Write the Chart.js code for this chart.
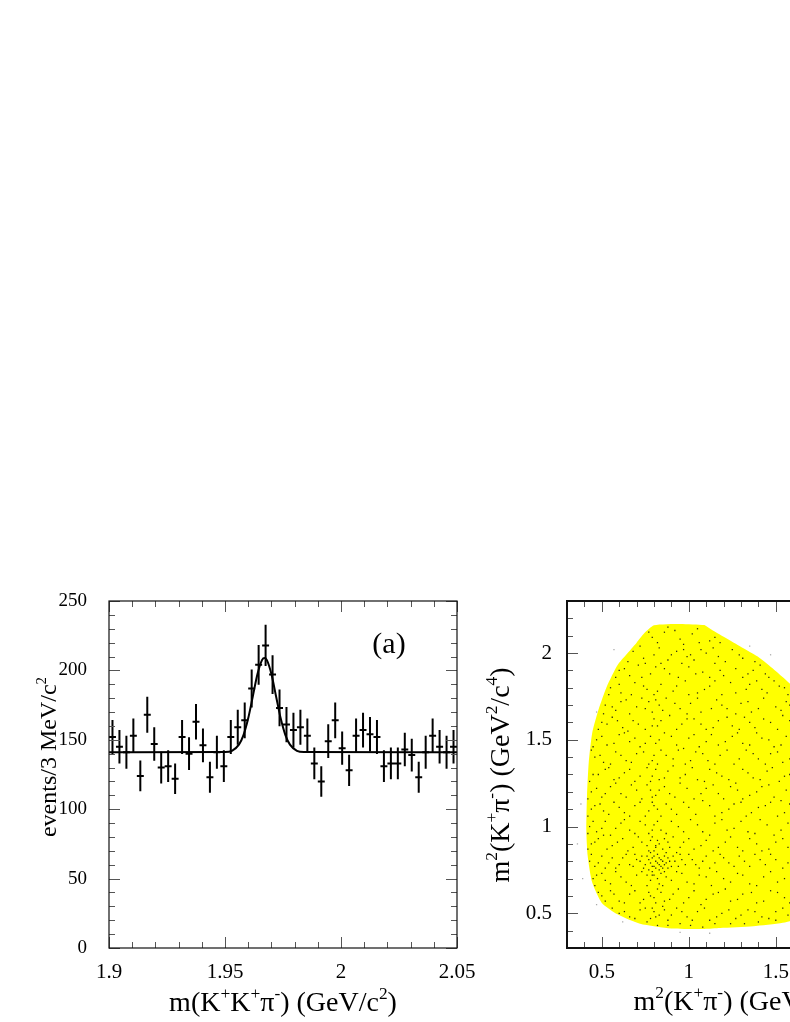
<!DOCTYPE html>
<html>
<head>
<meta charset="utf-8">
<script src="https://cdn.jsdelivr.net/npm/chart.js@4.4.1/dist/chart.umd.min.js"></script>
<style>
html, body { margin: 0; padding: 0; background: #fff; overflow: hidden; width: 790px; height: 1022px; }
#chartA { position: absolute; left: 0; top: 560px; }
#chartB { position: absolute; left: 470px; top: 560px; }
</style>
</head>
<body>
<canvas id="chartA" width="480" height="462"></canvas>
<canvas id="chartB" width="520" height="462"></canvas>
<script>
// (a) mass histogram, 3 MeV bins from 1.9 GeV
var binLow = 1.9, binWidth = 0.003;
var counts = [152,145,141,153,124,168,147,130,131,122,
              152,140,163,146,123,141,131,152,159,164,
              187,204,218,197,173,161,157,159,153,133,
              120,149,164,144,128,153,157,154,152,131,
              133,133,143,139,123,141,153,145,141,145];
var errors = [12.3,12.0,11.9,12.4,11.1,13.0,12.1,11.4,11.4,11.0,
              12.3,11.8,12.8,12.1,11.1,11.9,11.4,12.3,12.6,12.8,
              13.7,14.3,14.8,14.0,13.2,12.7,12.5,12.6,12.4,11.5,
              11.0,12.2,12.8,12.0,11.3,12.4,12.5,12.4,12.3,11.4,
              11.5,11.5,12.0,11.8,11.1,11.9,12.4,12.0,11.9,12.0];
// fit curve
var fitX = [1.9, 1.95, 1.953, 1.956, 1.958, 1.960, 1.962, 1.964, 1.966, 1.967, 1.968, 1.970, 1.972, 1.974, 1.976, 1.978, 1.981, 1.984, 2.05];
var fitY = [141, 141.2, 142.1, 146.5, 153.6, 165.5, 181.4, 197.4, 207.6, 209, 207.6, 197.4, 181.4, 165.5, 153.6, 146.5, 142.1, 141.2, 141];
var xTicksA = [1.9, 1.95, 2, 2.05];
var yTicksA = [0, 50, 100, 150, 200, 250];

// (b) Dalitz plot
var xTicksB = [0.5, 1, 1.5, 2];
var yTicksB = [0.5, 1, 1.5, 2];
var boundary = [
  [1.09,2.162],[0.95,2.168],[0.80,2.16],[0.74,2.11],[0.70,2.06],[0.64,1.99],[0.59,1.93],
  [0.53,1.81],[0.48,1.67],[0.445,1.54],[0.425,1.37],[0.415,1.18],[0.411,0.98],[0.419,0.83],
  [0.444,0.68],[0.50,0.56],[0.59,0.495],[0.72,0.44],[0.90,0.413],[1.09,0.41],[1.18,0.415],
  [1.37,0.425],[1.54,0.445],[1.67,0.48],[1.81,0.53],[1.93,0.59],[1.99,0.64],[2.06,0.70],
  [2.11,0.74],[2.16,0.80],[2.168,0.95],[2.162,1.09],[2.114,1.165],[2.047,1.281],[1.98,1.396],
  [1.903,1.492],[1.817,1.589],[1.70,1.70],[1.589,1.817],[1.492,1.903],[1.396,1.98],
  [1.281,2.047],[1.165,2.114],[1.09,2.162]
];
var eventsIn = [
  [0.86,2.12],[0.95,2.08],[1.02,2.11],[1.12,2.07],[0.79,2.09],[1.06,2.06],[0.92,2.13],
  [0.88,2.15],[1.05,2.14],[0.82,2.06],[1.15,2.09],[0.97,2.05],[0.77,2.12],[1.18,2.06],
  [0.68,2.01],[0.74,1.97],[0.83,2.03],[0.9,1.99],[0.97,2.02],[1.03,1.96],[1.1,2.0],[1.17,1.98],[1.25,2.02],[1.31,1.97],[0.99,1.98],[1.14,2.03],
  [0.65,1.95],[0.72,2.04],[0.88,1.96],[1.07,2.02],[1.21,1.95],[1.29,1.99],[1.38,1.95],[0.93,2.01],[0.8,1.99],[1.01,1.99],
  [0.6,1.9],[0.66,1.87],[0.71,1.93],[0.78,1.88],[0.81,1.92],[0.86,1.91],[0.94,1.86],[1.0,1.92],[1.08,1.89],[1.15,1.94],[1.2,1.87],[1.27,1.91],[1.34,1.88],[1.41,1.93],[1.46,1.86],[0.75,1.94],
  [0.58,1.86],[0.63,1.91],[0.73,1.86],[0.89,1.88],[0.96,1.94],[1.04,1.88],[1.18,1.9],[1.31,1.86],[1.37,1.9],[1.44,1.88],[1.12,1.86],[0.84,1.94],
  [0.55,1.8],[0.61,1.77],[0.69,1.83],[0.76,1.79],[0.8,1.76],[0.84,1.82],[0.91,1.78],[0.98,1.84],[1.05,1.77],[1.12,1.81],[1.19,1.76],[1.24,1.83],[1.33,1.79],[1.39,1.84],[1.45,1.77],[1.52,1.81],[1.57,1.76],
  [0.54,1.76],[0.6,1.82],[0.67,1.76],[0.74,1.81],[0.82,1.78],[0.93,1.81],[1.0,1.76],[1.09,1.79],[1.15,1.84],[1.27,1.77],[1.35,1.82],[1.42,1.79],[1.55,1.8],[1.49,1.84],
  [0.52,1.7],[0.58,1.67],[0.64,1.73],[0.7,1.69],[0.77,1.72],[0.79,1.66],[0.83,1.7],[0.87,1.74],[0.95,1.68],[1.01,1.71],[1.07,1.66],[1.16,1.73],[1.22,1.68],[1.3,1.71],[1.36,1.66],[1.43,1.74],[1.5,1.69],[1.56,1.72],[0.73,1.74],
  [0.51,1.65],[0.56,1.69],[0.61,1.72],[0.66,1.65],[0.75,1.68],[0.81,1.73],[0.85,1.67],[0.92,1.71],[0.99,1.65],[1.05,1.74],[1.13,1.68],[1.19,1.7],[1.27,1.65],[1.34,1.72],[1.4,1.68],[1.53,1.67],[1.58,1.7],
  [0.5,1.6],[0.56,1.63],[0.62,1.57],[0.68,1.61],[0.75,1.56],[0.8,1.62],[0.82,1.58],[0.89,1.64],[0.96,1.59],[1.03,1.62],[1.1,1.56],[1.17,1.61],[1.25,1.58],[1.32,1.63],[1.38,1.57],[1.47,1.6],[1.54,1.64],
  [0.48,1.56],[0.53,1.59],[0.59,1.61],[0.65,1.55],[0.71,1.59],[0.79,1.58],[0.84,1.61],[0.93,1.56],[0.99,1.62],[1.07,1.59],[1.14,1.57],[1.22,1.63],[1.29,1.56],[1.35,1.6],[1.43,1.62],[1.51,1.56],[1.58,1.61],
  [0.47,1.5],[0.53,1.47],[0.6,1.53],[0.66,1.49],[0.72,1.46],[0.78,1.52],[0.81,1.48],[0.86,1.54],[0.93,1.47],[1.0,1.51],[1.06,1.46],[1.13,1.53],[1.21,1.49],[1.28,1.54],[1.35,1.47],[1.42,1.51],[1.49,1.46],[1.56,1.52],
  [0.45,1.46],[0.5,1.52],[0.57,1.48],[0.63,1.54],[0.69,1.51],[0.75,1.48],[0.83,1.5],[0.9,1.52],[0.97,1.45],[1.03,1.53],[1.1,1.49],[1.17,1.47],[1.25,1.52],[1.31,1.48],[1.39,1.54],[1.46,1.5],[1.53,1.47],
  [0.46,1.4],[0.51,1.37],[0.58,1.43],[0.64,1.38],[0.7,1.42],[0.77,1.36],[0.8,1.41],[0.84,1.44],[0.91,1.39],[0.98,1.36],[1.04,1.43],[1.11,1.38],[1.18,1.41],[1.26,1.36],[1.33,1.44],[1.4,1.39],[1.47,1.42],[1.54,1.37],
  [0.44,1.44],[0.49,1.41],[0.55,1.36],[0.61,1.41],[0.67,1.37],[0.74,1.43],[0.79,1.38],[0.82,1.36],[0.87,1.41],[0.94,1.44],[1.01,1.38],[1.08,1.42],[1.15,1.36],[1.22,1.44],[1.29,1.39],[1.37,1.42],[1.44,1.36],[1.51,1.43],[1.58,1.39],
  [0.45,1.3],[0.52,1.33],[0.57,1.27],[0.63,1.31],[0.69,1.26],[0.76,1.34],[0.79,1.29],[0.83,1.27],[0.88,1.32],[0.95,1.28],[1.02,1.34],[1.09,1.26],[1.16,1.31],[1.23,1.27],[1.31,1.33],[1.37,1.28],[1.45,1.32],[1.52,1.26],[1.58,1.3],
  [0.43,1.26],[0.48,1.3],[0.54,1.34],[0.6,1.28],[0.66,1.33],[0.72,1.29],[0.78,1.26],[0.81,1.33],[0.86,1.28],[0.91,1.35],[0.98,1.3],[1.05,1.27],[1.12,1.33],[1.19,1.29],[1.27,1.25],[1.34,1.31],[1.41,1.27],[1.48,1.34],[1.55,1.29],
  [0.44,1.2],[0.5,1.17],[0.55,1.23],[0.61,1.19],[0.67,1.24],[0.73,1.16],[0.78,1.21],[0.81,1.18],[0.86,1.23],[0.92,1.17],[0.99,1.22],[1.07,1.19],[1.14,1.24],[1.2,1.16],[1.28,1.21],[1.35,1.18],[1.42,1.23],[1.49,1.17],[1.56,1.21],
  [0.42,1.16],[0.47,1.22],[0.52,1.19],[0.58,1.25],[0.64,1.17],[0.7,1.21],[0.76,1.24],[0.79,1.17],[0.83,1.21],[0.89,1.19],[0.95,1.25],[1.03,1.16],[1.1,1.22],[1.17,1.19],[1.24,1.23],[1.31,1.16],[1.39,1.2],[1.46,1.24],[1.53,1.15],
  [0.44,1.1],[0.49,1.13],[0.54,1.07],[0.6,1.11],[0.66,1.06],[0.72,1.14],[0.77,1.09],[0.8,1.12],[0.84,1.06],[0.9,1.1],[0.97,1.14],[1.04,1.07],[1.12,1.12],[1.19,1.08],[1.26,1.13],[1.33,1.06],[1.4,1.11],[1.47,1.14],[1.55,1.08],
  [0.42,1.06],[0.46,1.12],[0.51,1.09],[0.57,1.14],[0.63,1.08],[0.69,1.12],[0.75,1.06],[0.79,1.14],[0.82,1.1],[0.87,1.13],[0.93,1.07],[1.0,1.11],[1.08,1.15],[1.15,1.06],[1.23,1.1],[1.3,1.14],[1.36,1.08],[1.44,1.12],[1.51,1.06],[1.58,1.13],
  [0.43,1.0],[0.47,0.97],[0.52,1.03],[0.58,0.99],[0.63,1.04],[0.69,0.96],[0.75,1.01],[0.79,0.98],[0.82,1.03],[0.87,0.96],[0.94,1.0],[1.01,1.04],[1.08,0.97],[1.15,1.02],[1.22,0.98],[1.3,1.03],[1.38,0.96],[1.45,1.01],[1.53,0.98],
  [0.42,0.96],[0.45,1.03],[0.5,0.99],[0.55,0.95],[0.61,1.02],[0.66,0.98],[0.72,1.03],[0.77,0.96],[0.8,1.01],[0.84,0.98],[0.9,1.03],[0.97,0.97],[1.05,1.01],[1.12,0.95],[1.19,1.04],[1.26,0.99],[1.34,0.97],[1.41,1.04],[1.49,0.95],[1.57,1.02],
  [0.44,0.9],[0.48,0.93],[0.53,0.87],[0.59,0.91],[0.65,0.86],[0.71,0.94],[0.76,0.89],[0.78,0.92],[0.8,0.86],[0.83,0.9],[0.86,0.93],[0.89,0.88],[0.93,0.85],[0.97,0.91],[1.03,0.87],[1.1,0.92],[1.17,0.88],[1.24,0.94],[1.31,0.86],[1.39,0.9],[1.46,0.87],[1.54,0.93],
  [0.42,0.87],[0.46,0.91],[0.51,0.95],[0.56,0.89],[0.62,0.93],[0.68,0.88],[0.73,0.91],[0.77,0.86],[0.79,0.94],[0.81,0.89],[0.82,0.92],[0.85,0.87],[0.88,0.91],[0.91,0.94],[0.95,0.88],[1.0,0.93],[1.07,0.89],[1.14,0.86],[1.21,0.91],[1.28,0.88],[1.35,0.93],[1.42,0.86],[1.5,0.91],[1.57,0.88],
  [0.43,0.8],[0.46,0.77],[0.5,0.83],[0.54,0.79],[0.58,0.76],[0.62,0.82],[0.66,0.78],[0.69,0.84],[0.72,0.8],[0.74,0.76],[0.76,0.83],[0.78,0.79],[0.79,0.82],[0.8,0.77],[0.81,0.8],[0.82,0.84],[0.83,0.78],[0.84,0.81],[0.85,0.76],[0.86,0.83],[0.87,0.79],[0.88,0.82],[0.9,0.77],[0.92,0.8],[0.95,0.84],[0.98,0.78],[1.02,0.81],[1.06,0.76],[1.1,0.83],[1.15,0.79],[1.2,0.82],[1.26,0.77],[1.32,0.8],[1.38,0.84],[1.44,0.78],[1.5,0.81],[1.57,0.79],[0.77,0.75],[0.83,0.75],
  [0.44,0.84],[0.48,0.79],[0.52,0.76],[0.56,0.82],[0.6,0.78],[0.64,0.84],[0.68,0.77],[0.7,0.81],[0.73,0.83],[0.75,0.78],[0.77,0.81],[0.78,0.85],[0.79,0.77],[0.8,0.83],[0.81,0.76],[0.82,0.79],[0.83,0.82],[0.84,0.77],[0.85,0.8],[0.86,0.78],[0.87,0.85],[0.88,0.76],[0.89,0.8],[0.91,0.83],[0.94,0.77],[0.96,0.81],[1.0,0.84],[1.04,0.78],[1.08,0.8],[1.12,0.76],[1.18,0.84],[1.23,0.79],[1.29,0.83],[1.35,0.77],[1.41,0.81],[1.47,0.84],[1.54,0.76],[0.76,0.72],[0.84,0.73],[0.81,0.88],[0.79,0.72],[0.86,0.74],
  [0.45,0.7],[0.5,0.73],[0.55,0.67],[0.61,0.71],[0.67,0.66],[0.73,0.74],[0.78,0.69],[0.8,0.72],[0.83,0.67],[0.87,0.71],[0.93,0.74],[0.99,0.68],[1.06,0.72],[1.13,0.66],[1.2,0.7],[1.28,0.73],[1.35,0.67],[1.43,0.71],[1.51,0.68],
  [0.46,0.66],[0.47,0.72],[0.52,0.69],[0.58,0.74],[0.64,0.68],[0.7,0.72],[0.76,0.66],[0.79,0.74],[0.82,0.7],[0.85,0.66],[0.9,0.69],[0.96,0.73],[1.03,0.67],[1.1,0.71],[1.16,0.74],[1.24,0.68],[1.31,0.72],[1.39,0.66],[1.47,0.74],[1.55,0.7],
  [0.5,0.6],[0.55,0.63],[0.6,0.57],[0.66,0.61],[0.72,0.56],[0.77,0.62],[0.8,0.59],[0.82,0.64],[0.86,0.57],[0.91,0.61],[0.97,0.56],[1.03,0.63],[1.1,0.58],[1.17,0.62],[1.24,0.57],[1.31,0.61],[1.39,0.56],[1.47,0.63],[1.55,0.59],
  [0.48,0.62],[0.52,0.57],[0.57,0.61],[0.63,0.56],[0.69,0.63],[0.74,0.58],[0.78,0.6],[0.81,0.56],[0.84,0.62],[0.89,0.58],[0.94,0.64],[1.0,0.59],[1.07,0.55],[1.14,0.61],[1.21,0.64],[1.28,0.58],[1.36,0.62],[1.43,0.57],[1.51,0.62],[1.58,0.56],
  [0.6,0.5],[0.66,0.48],[0.72,0.52],[0.78,0.47],[0.8,0.51],[0.83,0.49],[0.88,0.46],[0.93,0.53],[0.99,0.48],[1.05,0.51],[1.12,0.46],[1.19,0.5],[1.27,0.47],[1.34,0.52],[1.42,0.48],[1.5,0.51],[1.57,0.49],[0.79,0.53],[0.85,0.54],
  [0.56,0.53],[0.63,0.51],[0.69,0.47],[0.75,0.53],[0.81,0.48],[0.86,0.52],[0.9,0.49],[0.96,0.51],[1.02,0.46],[1.09,0.53],[1.16,0.48],[1.23,0.52],[1.3,0.49],[1.38,0.51],[1.46,0.47],[1.54,0.53],
  [0.82,0.43],[0.95,0.44],[1.08,0.42],[1.24,0.44],[1.4,0.45],[0.76,0.45],[0.88,0.43],[1.01,0.43],[1.15,0.44],[1.32,0.44],[1.5,0.46]
];
var eventsOut = [[0.38,1.13],[0.39,0.7],[0.47,1.66],[0.57,2.02],[1.35,2.04],[1.47,1.99],[0.95,0.39],[1.12,0.385],[0.47,0.55],[0.62,0.45],[0.36,0.9]];

var serif = '"Liberation Serif", "Times New Roman", serif';

function toPts(list) {
  return list.map(function (p) { return { x: p[0], y: p[1] }; });
}

function richText(ctx, parts, x, y, size, rotate) {
  ctx.save();
  ctx.translate(x, y);
  if (rotate) ctx.rotate(-Math.PI / 2);
  ctx.fillStyle = '#000';
  ctx.textAlign = 'left';
  ctx.textBaseline = 'alphabetic';
  var w = 0;
  parts.forEach(function (p) {
    ctx.font = (p[1] ? size * 0.62 : size) + 'px ' + serif;
    w += ctx.measureText(p[0]).width;
  });
  var cx = -w / 2;
  parts.forEach(function (p) {
    ctx.font = (p[1] ? size * 0.62 : size) + 'px ' + serif;
    ctx.fillText(p[0], cx, p[1] ? -size * 0.42 : 0);
    cx += ctx.measureText(p[0]).width;
  });
  ctx.restore();
}

// frame with inward ticks, ROOT style
function frameTicks(o) {
  return {
    id: 'frameTicks',
    afterDraw: function (chart) {
      var ctx = chart.ctx, a = chart.chartArea, xs = chart.scales.x, ys = chart.scales.y;
      ctx.save();
      ctx.strokeStyle = '#555';
      ctx.lineWidth = 1;
      ctx.beginPath();
      var n = Math.round((xs.max - xs.min) / o.xMinor), i, v, len, p;
      for (i = 0; i <= n; i++) {
        v = xs.min + i * o.xMinor;
        len = Math.abs(v / o.xMajor - Math.round(v / o.xMajor)) < 1e-6 ? 11 : 6;
        p = Math.round(xs.getPixelForValue(v)) + 0.5;
        ctx.moveTo(p, a.bottom); ctx.lineTo(p, a.bottom - len);
        ctx.moveTo(p, a.top); ctx.lineTo(p, a.top + len);
      }
      n = Math.round((ys.max - ys.min) / o.yMinor);
      for (i = 0; i <= n; i++) {
        v = ys.min + i * o.yMinor;
        len = Math.abs(v / o.yMajor - Math.round(v / o.yMajor)) < 1e-6 ? 11 : 6;
        p = Math.round(ys.getPixelForValue(v)) + 0.5;
        ctx.moveTo(a.left, p); ctx.lineTo(a.left + len, p);
        ctx.moveTo(a.right, p); ctx.lineTo(a.right - len, p);
      }
      ctx.stroke();
      ctx.strokeStyle = '#111';
      ctx.lineWidth = o.frame;
      ctx.strokeRect(a.left, a.top, a.right - a.left, a.bottom - a.top);
      ctx.restore();
      o.labels(chart.ctx);
    }
  };
}

var errorBars = {
  id: 'errorBars',
  afterDatasetsDraw: function (chart) {
    var ctx = chart.ctx, xs = chart.scales.x, ys = chart.scales.y;
    ctx.save();
    ctx.strokeStyle = '#000';
    ctx.lineWidth = 2;
    ctx.beginPath();
    counts.forEach(function (c, i) {
      var xc = binLow + (i + 0.5) * binWidth;
      var px = xs.getPixelForValue(xc);
      var py = ys.getPixelForValue(c);
      ctx.moveTo(px, ys.getPixelForValue(c + errors[i]));
      ctx.lineTo(px, ys.getPixelForValue(c - errors[i]));
      ctx.moveTo(xs.getPixelForValue(xc - binWidth / 2), py);
      ctx.lineTo(xs.getPixelForValue(xc + binWidth / 2), py);
    });
    ctx.stroke();
    ctx.restore();
  }
};

function axisOpts(min, max, ticks, size, pad, fontSize) {
  return {
    type: 'linear',
    min: min,
    max: max,
    grid: { display: false, drawTicks: false },
    border: { display: false },
    afterBuildTicks: function (scale) {
      scale.ticks = ticks.map(function (v) { return { value: v }; });
    },
    afterFit: function (scale) {
      if (scale.isHorizontal()) scale.height = size; else scale.width = size;
      scale.paddingLeft = 0; scale.paddingRight = 0;
      scale.paddingTop = 0; scale.paddingBottom = 0;
    },
    ticks: {
      color: '#000',
      padding: pad,
      maxRotation: 0,
      autoSkip: false,
      font: { family: serif, size: fontSize },
      callback: function (v) { return String(+v.toFixed(2)); }
    }
  };
}

var histPts = counts.map(function (c, i) {
  return { x: binLow + (i + 0.5) * binWidth, y: c };
});
var fitPts = fitX.map(function (x, i) { return { x: x, y: fitY[i] }; });

new Chart(document.getElementById('chartA'), {
  type: 'scatter',
  data: {
    datasets: [
      { data: histPts, pointRadius: 0, showLine: false },
      {
        data: fitPts, showLine: true, pointRadius: 0, borderColor: '#000',
        borderWidth: 2, fill: false, cubicInterpolationMode: 'monotone'
      }
    ]
  },
  options: {
    responsive: false,
    animation: false,
    devicePixelRatio: 1,
    layout: { padding: { top: 41, right: 23, left: 0, bottom: 0 } },
    plugins: { legend: { display: false }, tooltip: { enabled: false } },
    scales: {
      x: axisOpts(1.9, 2.05, xTicksA, 74, 12, 21),
      y: axisOpts(0, 250, yTicksA, 109, 22, 19)
    }
  },
  plugins: [errorBars, frameTicks({
    xMinor: 0.01, xMajor: 0.05, yMinor: 10, yMajor: 50, frame: 1.2,
    labels: function (ctx) {
      richText(ctx, [['m(K', 0], ['+', 1], ['K', 0], ['+', 1], ['\u03c0', 0], ['-', 1], [') (GeV/c', 0], ['2', 1], [')', 0]], 283, 451, 28, false);
      richText(ctx, [['events/3 MeV/c', 0], ['2', 1]], 56, 197, 24, true);
      richText(ctx, [['(a)', 0]], 389, 93, 30, false);
    }
  })]
});

new Chart(document.getElementById('chartB'), {
  type: 'scatter',
  data: {
    datasets: [
      {
        data: toPts(eventsIn), pointStyle: 'rect', pointRadius: 0.9,
        backgroundColor: '#2a2a10', borderWidth: 0, order: 1
      },
      {
        data: toPts(eventsOut), pointStyle: 'rect', pointRadius: 0.9,
        backgroundColor: '#aaaaaa', borderWidth: 0, order: 1
      },
      {
        data: toPts(boundary), showLine: true, pointRadius: 0, borderWidth: 0,
        borderColor: 'rgba(0,0,0,0)', backgroundColor: '#ffff00', fill: 'shape',
        tension: 0.2, order: 2
      }
    ]
  },
  options: {
    responsive: false,
    animation: false,
    devicePixelRatio: 1,
    layout: { padding: { top: 41, right: 75, left: 0, bottom: 0 } },
    plugins: { legend: { display: false }, tooltip: { enabled: false } },
    scales: {
      x: axisOpts(0.3, 2.3, xTicksB, 74, 12, 21),
      y: axisOpts(0.3, 2.3, yTicksB, 97, 15, 21)
    }
  },
  plugins: [frameTicks({
    xMinor: 0.1, xMajor: 0.5, yMinor: 0.1, yMajor: 0.5, frame: 2,
    labels: function (ctx) {
      richText(ctx, [['m', 0], ['2', 1], ['(K', 0], ['+', 1], ['\u03c0', 0], ['-', 1], [') (GeV', 0], ['2', 1], ['/c', 0], ['4', 1], [')', 0]], 271, 450, 28, false);
      richText(ctx, [['m', 0], ['2', 1], ['(K', 0], ['+', 1], ['\u03c0', 0], ['-', 1], [') (GeV', 0], ['2', 1], ['/c', 0], ['4', 1], [')', 0]], 39, 215, 28, true);
    }
  })]
});
</script>
</body>
</html>
